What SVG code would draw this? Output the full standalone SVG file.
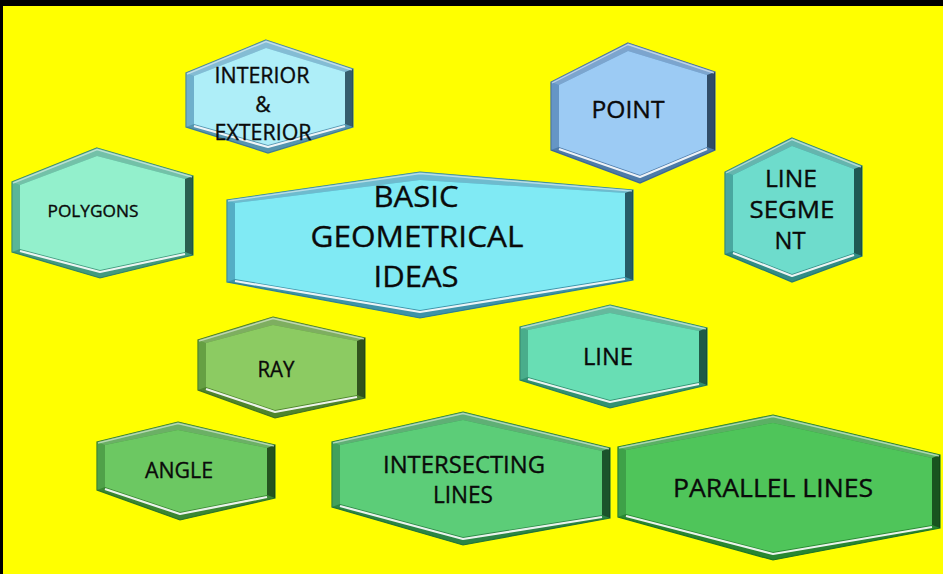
<svg xmlns="http://www.w3.org/2000/svg" width="943" height="574" viewBox="0 0 943 574">
  <style>
    .edge { stroke-width: 1.2; }
    .tband { fill: #ffffff; fill-opacity: 0.22; }
    .lband { fill: #ffffff; fill-opacity: 0.08; }
    .rband { fill: #000000; fill-opacity: 0.45; }
    .bband { fill: #000000; fill-opacity: 0.12; }
    .hl { fill: none; stroke: #ffffff; stroke-width: 2.2; stroke-opacity: 0.9; stroke-linejoin: round; }
    .thl { fill: none; stroke: #ffffff; stroke-width: 1.4; stroke-opacity: 0.5; stroke-linejoin: round; }
    .txt { font-family: "Open Sans", Lato, "Liberation Sans", sans-serif; fill: #0a0a0a; stroke: #0a0a0a; stroke-width: 0.35; text-anchor: middle; }

    #node-interior .edge { fill: #62aac8; stroke: #44849f; } #node-interior .face { fill: #aeeef8; }
    #node-polygons .edge { fill: #4cb090; stroke: #348a6e; } #node-polygons .face { fill: #93f0cc; }
    #node-basic .edge { fill: #46a8c0; stroke: #2f879e; } #node-basic .face { fill: #80eaf4; }
    #node-point .edge { fill: #588cc0; stroke: #406ea0; } #node-point .face { fill: #9ccbf4; }
    #node-segment .edge { fill: #3aa098; stroke: #28827a; } #node-segment .face { fill: #6edccc; }
    #node-ray .edge { fill: #5a9834; stroke: #457a24; } #node-ray .face { fill: #8ccb62; }
    #node-line .edge { fill: #3aa682; stroke: #298666; } #node-line .face { fill: #68deb4; }
    #node-angle .edge { fill: #429a3a; stroke: #317c2a; } #node-angle .face { fill: #6cc862; }
    #node-intersecting .edge { fill: #32994f; stroke: #247c3c; } #node-intersecting .face { fill: #5ccd78; }
    #node-parallel .edge { fill: #2e9a39; stroke: #207c29; } #node-parallel .face { fill: #4fc55a; }
  </style>

  <!-- backdrop -->
  <rect x="0" y="0" width="943" height="574" fill="#000000"/>
  <rect x="3" y="6" width="940" height="568" fill="#ffff00"/>

  <!-- INTERIOR & EXTERIOR -->
  <g id="node-interior">
    <polygon class="edge" points="266,40 353,69 353,127 268,153 186,127 186,73"/>
    <polygon class="tband" points="186,73 266,40 353,69 345,72 266,48 194,76"/>
    <polygon class="lband" points="186,73 194,76 194,124 186,127"/>
    <polygon class="bband" points="186,127 268,153 353,127 345,124 268,145 194,124"/>
    <polygon class="rband" points="353,69 353,127 345,124 345,72"/>
    <polygon class="face" points="266,48 345,72 345,124 268,145 194,124 194,76"/>
    <polyline class="hl" points="194,126 268,147 345,126"/>
    <polyline class="thl" points="187,74 266,41.5 352,70"/>
    <text class="txt" x="262" y="83" font-size="21" textLength="95" lengthAdjust="spacingAndGlyphs">INTERIOR</text>
    <text class="txt" x="263" y="112" font-size="21">&amp;</text>
    <text class="txt" x="263" y="140" font-size="21" textLength="97" lengthAdjust="spacingAndGlyphs">EXTERIOR</text>
  </g>

  <!-- POLYGONS -->
  <g id="node-polygons">
    <polygon class="edge" points="97,148 193,176 193,255 100,278 12,252 12,182"/>
    <polygon class="tband" points="12,182 97,148 193,176 185,179 97,156 20,185"/>
    <polygon class="lband" points="12,182 20,185 20,249 12,252"/>
    <polygon class="bband" points="12,252 100,278 193,255 185,252 100,270 20,249"/>
    <polygon class="rband" points="193,176 193,255 185,252 185,179"/>
    <polygon class="face" points="97,156 185,179 185,252 100,270 20,249 20,185"/>
    <polyline class="hl" points="20,251 100,272 185,254"/>
    <polyline class="thl" points="13,183 97,149.5 192,177"/>
    <text class="txt" x="93" y="217" font-size="16.5" textLength="91" lengthAdjust="spacingAndGlyphs">POLYGONS</text>
  </g>

  <!-- BASIC GEOMETRICAL IDEAS -->
  <g id="node-basic">
    <polygon class="edge" points="420,172 633,190 633,280 420,318 227,282 227,200"/>
    <polygon class="tband" points="227,200 420,172 633,190 625,193 420,180 235,203"/>
    <polygon class="lband" points="227,200 235,203 235,279 227,282"/>
    <polygon class="bband" points="227,282 420,318 633,280 625,277 420,310 235,279"/>
    <polygon class="rband" points="633,190 633,280 625,277 625,193"/>
    <polygon class="face" points="420,180 625,193 625,277 420,310 235,279 235,203"/>
    <polyline class="hl" points="235,281 420,312 625,279"/>
    <polyline class="thl" points="228,201 420,173.5 632,191"/>
    <text class="txt" x="416" y="207" font-size="29" textLength="85" lengthAdjust="spacingAndGlyphs">BASIC</text>
    <text class="txt" x="417" y="247" font-size="29" textLength="213" lengthAdjust="spacingAndGlyphs">GEOMETRICAL</text>
    <text class="txt" x="416" y="287" font-size="29" textLength="85" lengthAdjust="spacingAndGlyphs">IDEAS</text>
  </g>

  <!-- POINT -->
  <g id="node-point">
    <polygon class="edge" points="628,43 715,72 715,150 640,183 551,150 551,82"/>
    <polygon class="tband" points="551,82 628,43 715,72 707,75 628,51 559,85"/>
    <polygon class="lband" points="551,82 559,85 559,147 551,150"/>
    <polygon class="bband" points="551,150 640,183 715,150 707,147 640,175 559,147"/>
    <polygon class="rband" points="715,72 715,150 707,147 707,75"/>
    <polygon class="face" points="628,51 707,75 707,147 640,175 559,147 559,85"/>
    <polyline class="hl" points="559,149 640,177 707,149"/>
    <polyline class="thl" points="552,83 628,44.5 714,73"/>
    <text class="txt" x="628" y="118" font-size="23" textLength="73" lengthAdjust="spacingAndGlyphs">POINT</text>
  </g>

  <!-- LINE SEGMENT -->
  <g id="node-segment">
    <polygon class="edge" points="792,138 862,166 862,256 792,282 725,254 725,172"/>
    <polygon class="tband" points="725,172 792,138 862,166 854,169 792,146 733,175"/>
    <polygon class="lband" points="725,172 733,175 733,251 725,254"/>
    <polygon class="bband" points="725,254 792,282 862,256 854,253 792,274 733,251"/>
    <polygon class="rband" points="862,166 862,256 854,253 854,169"/>
    <polygon class="face" points="792,146 854,169 854,253 792,274 733,251 733,175"/>
    <polyline class="hl" points="733,253 792,276 854,255"/>
    <polyline class="thl" points="726,173 792,139.5 861,167"/>
    <text class="txt" x="791" y="187" font-size="23" textLength="52" lengthAdjust="spacingAndGlyphs">LINE</text>
    <text class="txt" x="792" y="218" font-size="23" textLength="85" lengthAdjust="spacingAndGlyphs">SEGME</text>
    <text class="txt" x="790" y="249" font-size="23" textLength="31" lengthAdjust="spacingAndGlyphs">NT</text>
  </g>

  <!-- RAY -->
  <g id="node-ray">
    <polygon class="edge" points="273,317 365,338 365,398 275,418 198,390 198,340"/>
    <polygon class="tband" points="198,340 273,317 365,338 357,341 273,325 206,343"/>
    <polygon class="lband" points="198,340 206,343 206,387 198,390"/>
    <polygon class="bband" points="198,390 275,418 365,398 357,395 275,410 206,387"/>
    <polygon class="rband" points="365,338 365,398 357,395 357,341"/>
    <polygon class="face" points="273,325 357,341 357,395 275,410 206,387 206,343"/>
    <polyline class="hl" points="206,389 275,412 357,397"/>
    <polyline class="thl" points="199,341 273,318.5 364,339"/>
    <text class="txt" x="276" y="377" font-size="22" textLength="37" lengthAdjust="spacingAndGlyphs">RAY</text>
  </g>

  <!-- LINE -->
  <g id="node-line">
    <polygon class="edge" points="610,305 707,328 707,385 610,408 520,380 520,327"/>
    <polygon class="tband" points="520,327 610,305 707,328 699,331 610,313 528,330"/>
    <polygon class="lband" points="520,327 528,330 528,377 520,380"/>
    <polygon class="bband" points="520,380 610,408 707,385 699,382 610,400 528,377"/>
    <polygon class="rband" points="707,328 707,385 699,382 699,331"/>
    <polygon class="face" points="610,313 699,331 699,382 610,400 528,377 528,330"/>
    <polyline class="hl" points="528,379 610,402 699,384"/>
    <polyline class="thl" points="521,328 610,306.5 706,329"/>
    <text class="txt" x="608" y="365" font-size="24" textLength="50" lengthAdjust="spacingAndGlyphs">LINE</text>
  </g>

  <!-- ANGLE -->
  <g id="node-angle">
    <polygon class="edge" points="178,422 275,445 275,498 180,520 97,490 97,442"/>
    <polygon class="tband" points="97,442 178,422 275,445 267,448 178,430 105,445"/>
    <polygon class="lband" points="97,442 105,445 105,487 97,490"/>
    <polygon class="bband" points="97,490 180,520 275,498 267,495 180,512 105,487"/>
    <polygon class="rband" points="275,445 275,498 267,495 267,448"/>
    <polygon class="face" points="178,430 267,448 267,495 180,512 105,487 105,445"/>
    <polyline class="hl" points="105,489 180,514 267,497"/>
    <polyline class="thl" points="98,443 178,423.5 274,446"/>
    <text class="txt" x="179" y="478" font-size="22" textLength="68" lengthAdjust="spacingAndGlyphs">ANGLE</text>
  </g>

  <!-- INTERSECTING LINES -->
  <g id="node-intersecting">
    <polygon class="edge" points="463,412 610,448 610,518 463,545 332,507 332,442"/>
    <polygon class="tband" points="332,442 463,412 610,448 602,451 463,420 340,445"/>
    <polygon class="lband" points="332,442 340,445 340,504 332,507"/>
    <polygon class="bband" points="332,507 463,545 610,518 602,515 463,537 340,504"/>
    <polygon class="rband" points="610,448 610,518 602,515 602,451"/>
    <polygon class="face" points="463,420 602,451 602,515 463,537 340,504 340,445"/>
    <polyline class="hl" points="340,506 463,539 602,517"/>
    <polyline class="thl" points="333,443 463,413.5 609,449"/>
    <text class="txt" x="464" y="473" font-size="23" textLength="162" lengthAdjust="spacingAndGlyphs">INTERSECTING</text>
    <text class="txt" x="463" y="503" font-size="23" textLength="60" lengthAdjust="spacingAndGlyphs">LINES</text>
  </g>

  <!-- PARALLEL LINES -->
  <g id="node-parallel">
    <polygon class="edge" points="773,415 940,455 940,528 773,560 618,517 618,447"/>
    <polygon class="tband" points="618,447 773,415 940,455 932,458 773,423 626,450"/>
    <polygon class="lband" points="618,447 626,450 626,514 618,517"/>
    <polygon class="bband" points="618,517 773,560 940,528 932,525 773,552 626,514"/>
    <polygon class="rband" points="940,455 940,528 932,525 932,458"/>
    <polygon class="face" points="773,423 932,458 932,525 773,552 626,514 626,450"/>
    <polyline class="hl" points="626,516 773,554 932,527"/>
    <polyline class="thl" points="619,448 773,416.5 939,456"/>
    <text class="txt" x="773" y="497" font-size="25" textLength="200" lengthAdjust="spacingAndGlyphs">PARALLEL LINES</text>
  </g>
</svg>
